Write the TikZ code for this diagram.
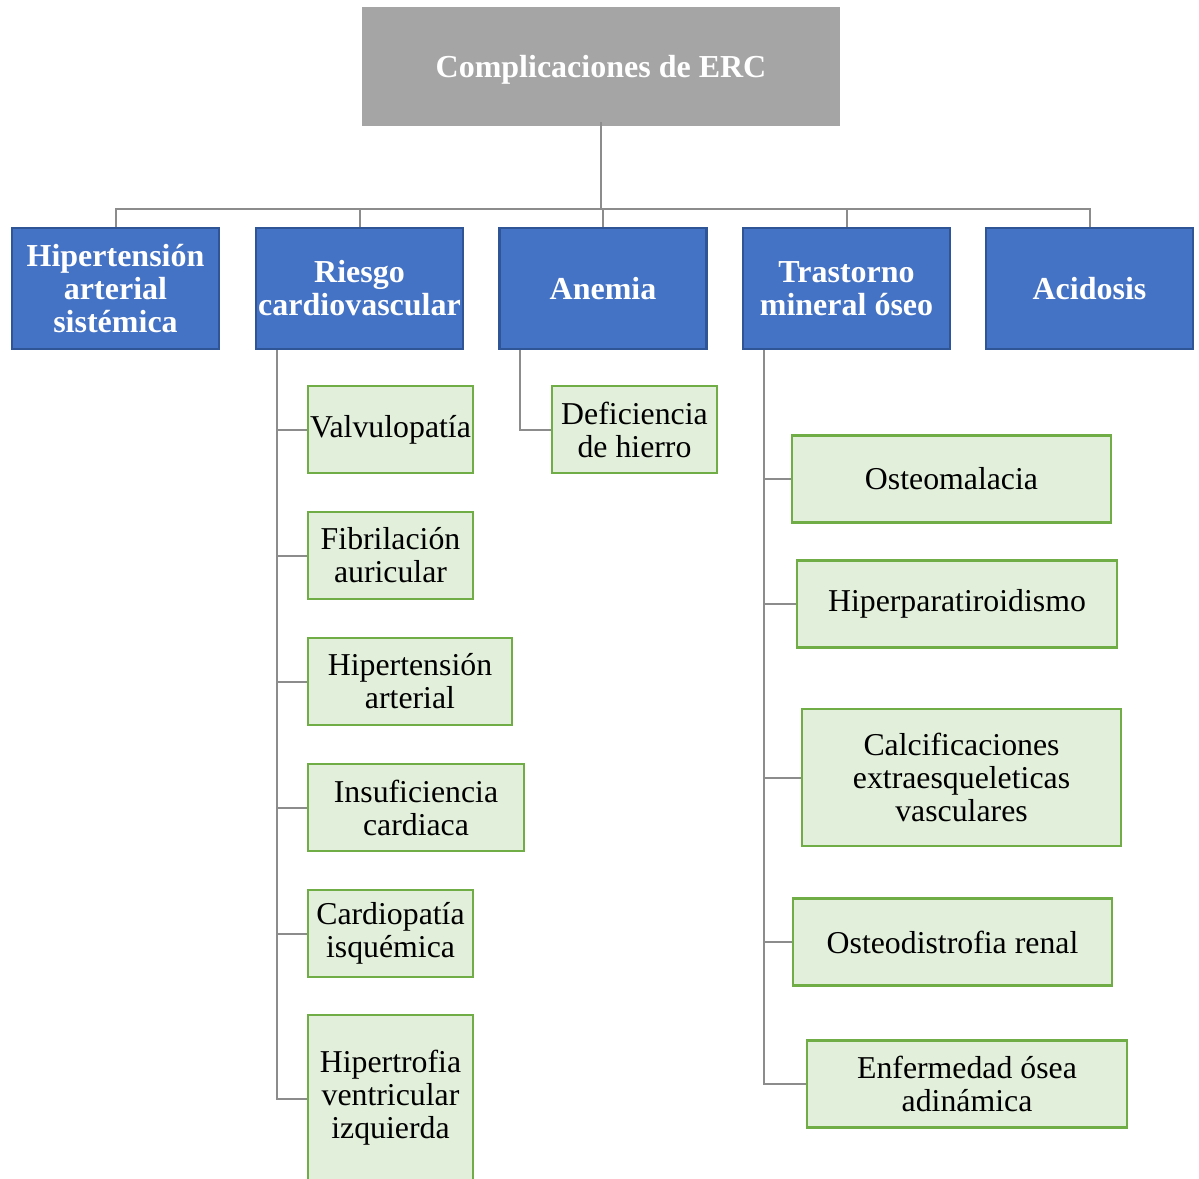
\documentclass[tikz,border=0pt]{standalone}
\usepackage{fontspec}
\setmainfont{Liberation Serif}
\definecolor{rootgray}{HTML}{A5A5A5}
\definecolor{catblue}{HTML}{4472C4}
\definecolor{catedge}{HTML}{2F5597}
\definecolor{itemfill}{HTML}{E2EFDA}
\definecolor{itemedge}{HTML}{70AD47}
\definecolor{linkgray}{HTML}{8C8C8C}
\tikzset{
  rootbox/.style={rectangle, fill=rootgray, draw=none, inner sep=0pt,
    minimum width=478pt, minimum height=119pt, text=white,
    text height=28.5pt, text depth=7pt,
    font=\fontsize{32}{34}\selectfont\bfseries},
  catbox/.style={rectangle, fill=catblue, draw=catedge, line width=1.6pt, inner sep=0pt,
    minimum width=206pt, minimum height=120pt, text=white, align=center,
    font=\fontsize{32}{33}\selectfont\bfseries},
  itembox/.style={rectangle, fill=itemfill, draw=itemedge, line width=2.2pt, inner sep=0pt,
    minimum height=87pt, text=black, align=center,
    font=\fontsize{31.8}{33}\selectfont},
  link/.style={draw=linkgray, line width=2pt}
}
\begin{document}
\begin{tikzpicture}[x=1pt, y=-1pt]
\useasboundingbox (0,0) rectangle (1199,1178);
\clip (0,0) rectangle (1199,1178);

% top level
\node[rootbox] (root) at (601,66.5) {Complicaciones de ERC};

% categories
\node[catbox] (hta)   at (115.5,288.5) {Hipertensión\\arterial\\sistémica};
\node[catbox] (rcv)   at (359.5,288.5) {Riesgo\\cardiovascular};
\node[catbox] (anem)  at (603,288.5)   {Anemia};
\node[catbox] (tmo)   at (846.5,288.5) {Trastorno\\mineral óseo};
\node[catbox] (acid)  at (1089.5,288.5) {Acidosis};

% cardiovascular risk items
\node[itembox, minimum width=165pt] (valv) at (390.5,429.5) {Valvulopatía};
\node[itembox, minimum width=165pt] (fib)  at (390.5,555.5) {Fibrilación\\auricular};
\node[itembox, minimum width=204pt] (hart) at (410,681.5)   {Hipertensión\\arterial};
\node[itembox, minimum width=216pt] (ic)   at (416,807.5)   {Insuficiencia\\cardiaca};
\node[itembox, minimum width=165pt] (cisq) at (390.5,933.5) {Cardiopatía\\isquémica};
\node[itembox, minimum width=165pt, minimum height=166pt] (hvi) at (390.5,1098) {Hipertrofia\\ventricular\\izquierda};

% anemia item
\node[itembox, minimum width=165pt] (defh) at (634.5,429.5) {Deficiencia\\de hierro};

% mineral bone disorder items
\node[itembox, minimum width=319pt] (ostm) at (951.5,479)  {Osteomalacia};
\node[itembox, minimum width=320pt] (hpt)  at (957,604)    {Hiperparatiroidismo};
\node[itembox, minimum width=319pt, minimum height=137pt] (calc) at (961.5,777.5) {Calcificaciones\\extraesqueleticas\\vasculares};
\node[itembox, minimum width=319pt] (ostd) at (952.5,942)  {Osteodistrofia renal};
\node[itembox, minimum width=320pt] (eoa)  at (967,1084)   {Enfermedad ósea\\adinámica};

% bus between the root and the categories
\coordinate (bus) at (0,213);
\foreach \c in {hta,rcv,anem,tmo,acid}
  \draw[link] ([yshift=4pt]root.south) -- ([yshift=4pt]root.south |- bus) -| (\c.north);

% branches from the categories to their items
\foreach \i in {valv,fib,hart,ic,cisq}
  \draw[link] ([xshift=21pt]rcv.south west) |- (\i.west);
\draw[link] ([xshift=21pt]rcv.south west) |- ([yshift=-1pt]hvi.west);
\draw[link] ([xshift=21pt]anem.south west) |- (defh.west);
\foreach \i in {ostm,hpt,calc,ostd,eoa}
  \draw[link] ([xshift=21pt]tmo.south west) |- (\i.west);

% redraw box edges over the branch ends
\foreach \c in {hta,rcv,anem,tmo,acid}
  \draw[catedge, line width=1.6pt] (\c.south west) rectangle (\c.north east);
\end{tikzpicture}
\end{document}
